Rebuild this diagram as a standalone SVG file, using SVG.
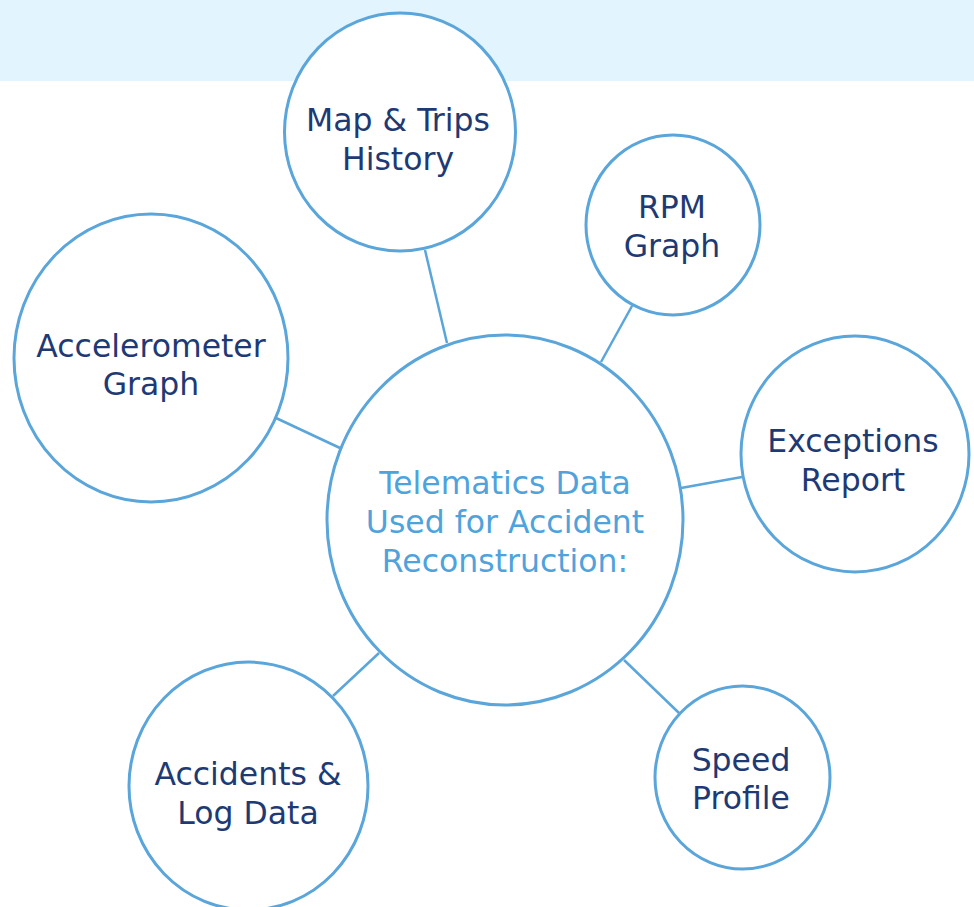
<svg xmlns="http://www.w3.org/2000/svg" width="974" height="907" viewBox="0 0 974 907">
<style>
.node{fill:#ffffff;stroke:#5aa5da;stroke-width:3}
.edge{stroke:#5aa5da;stroke-width:2.5;fill:none}
.lbl{font-family:"DejaVu Sans",Verdana,sans-serif;font-size:31.5px;fill:#1e3a74;text-anchor:middle}
.hub{font-family:"DejaVu Sans",Verdana,sans-serif;font-size:31.5px;fill:#4fa3dc;text-anchor:middle}
</style>
<rect x="0" y="0" width="974" height="907" fill="#ffffff"/>
<rect x="0" y="0" width="974" height="81" fill="#e2f4fd"/>
<g id="connectors">
<line class="edge" x1="425" y1="250" x2="447" y2="343"/>
<line class="edge" x1="632" y1="306" x2="601" y2="362"/>
<line class="edge" x1="276" y1="418" x2="340" y2="448"/>
<line class="edge" x1="681" y1="488" x2="742" y2="477"/>
<line class="edge" x1="379" y1="653" x2="333" y2="696"/>
<line class="edge" x1="624" y1="660" x2="679" y2="713"/>
</g>
<g id="node-map">
<ellipse class="node" cx="400" cy="132" rx="115.5" ry="119"/>
<text class="lbl" x="398" y="131">Map &amp; Trips</text>
<text class="lbl" x="398" y="170">History</text>
</g>
<g id="node-rpm">
<ellipse class="node" cx="673" cy="225" rx="87" ry="90"/>
<text class="lbl" x="672" y="218">RPM</text>
<text class="lbl" x="672" y="257">Graph</text>
</g>
<g id="node-accel">
<ellipse class="node" cx="151" cy="358" rx="137" ry="144"/>
<text class="lbl" x="151" y="357">Accelerometer</text>
<text class="lbl" x="151" y="395">Graph</text>
</g>
<g id="node-exceptions">
<ellipse class="node" cx="855" cy="454" rx="114" ry="118"/>
<text class="lbl" x="853" y="452">Exceptions</text>
<text class="lbl" x="853" y="491">Report</text>
</g>
<g id="node-center">
<ellipse class="node" cx="505" cy="520" rx="178" ry="185"/>
<text class="hub" x="505" y="494">Telematics Data</text>
<text class="hub" x="505" y="533">Used for Accident</text>
<text class="hub" x="505" y="572">Reconstruction:</text>
</g>
<g id="node-accidents">
<ellipse class="node" cx="248.5" cy="786" rx="119.5" ry="124"/>
<text class="lbl" x="248" y="785">Accidents &amp;</text>
<text class="lbl" x="248" y="824">Log Data</text>
</g>
<g id="node-speed">
<ellipse class="node" cx="742.5" cy="777.5" rx="87.5" ry="91.5"/>
<text class="lbl" x="741" y="771">Speed</text>
<text class="lbl" x="741" y="809">Profile</text>
</g>
</svg>
